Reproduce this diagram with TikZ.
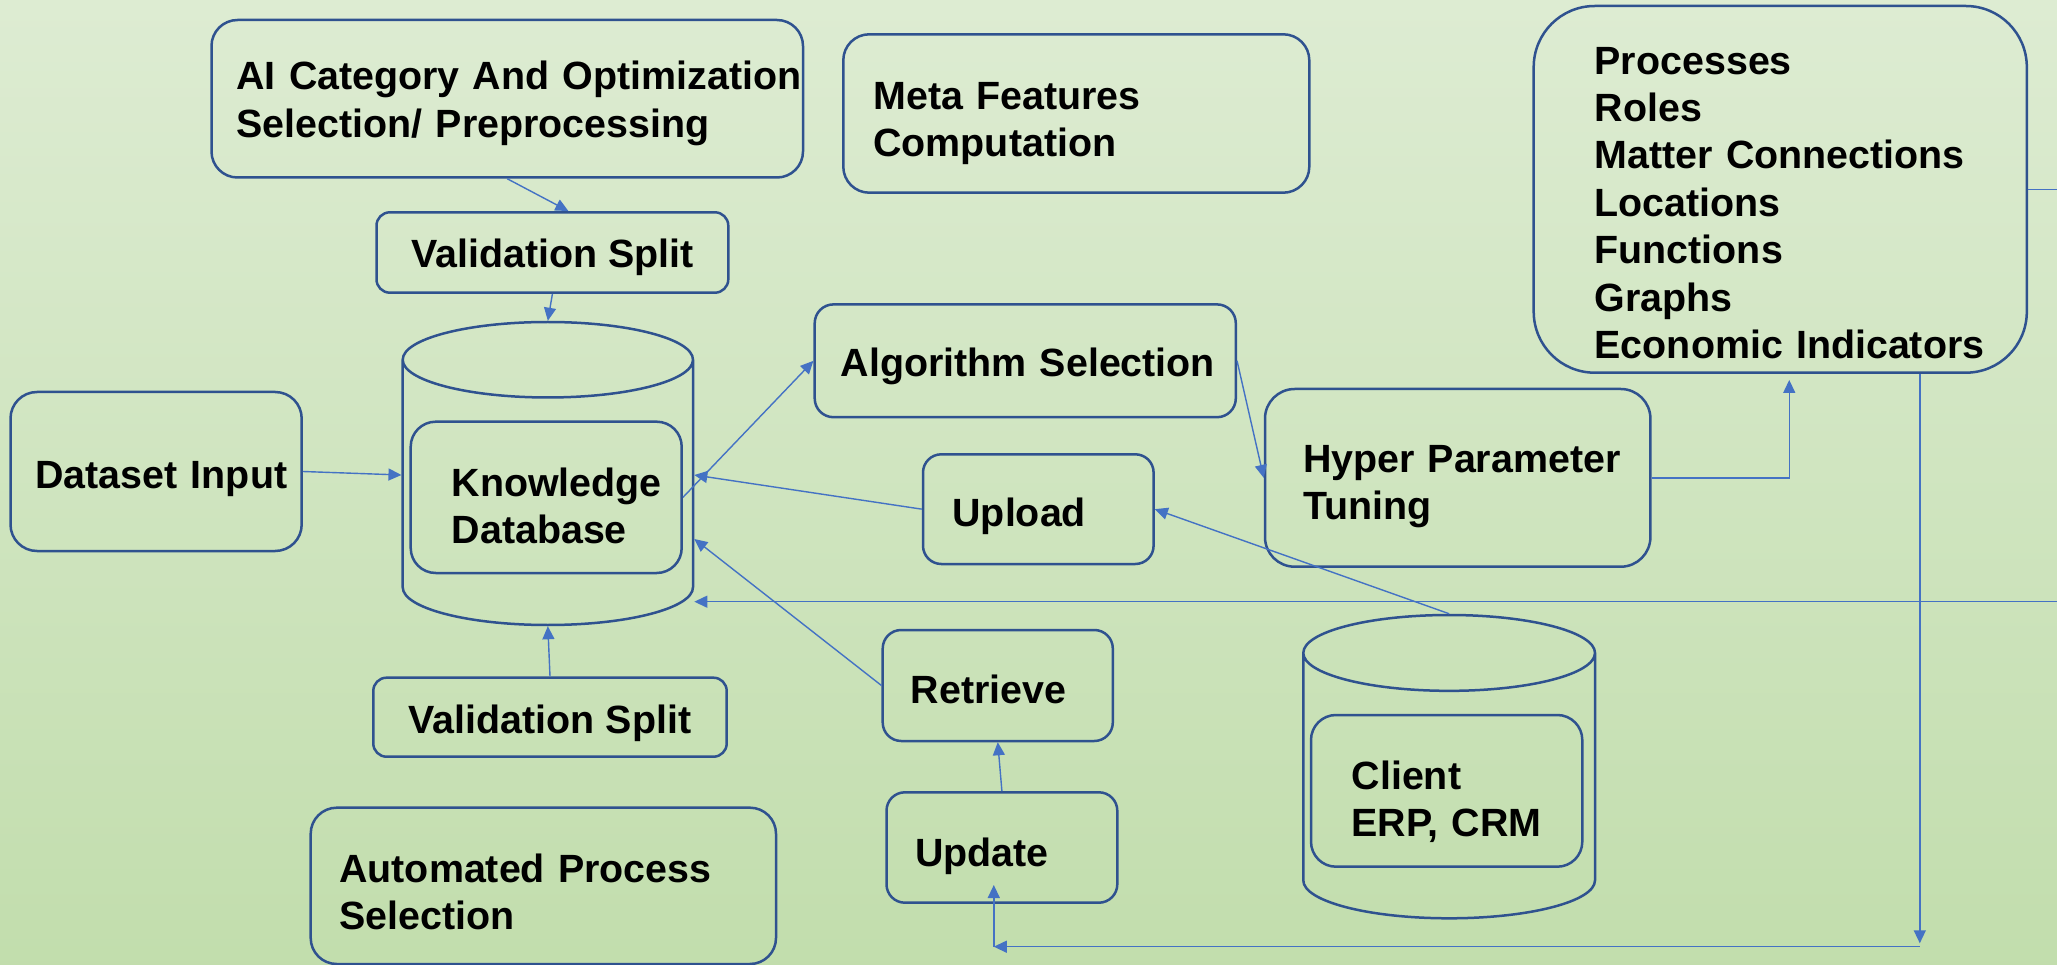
\documentclass[tikz,border=0pt]{standalone}
\usepackage{fontspec}
\setmainfont{Liberation Sans}
\usetikzlibrary{shapes.geometric,arrows.meta}

\definecolor{bordc}{HTML}{2F528F}
\definecolor{arrc}{HTML}{4472C4}
\definecolor{bgtop}{RGB}{235,243,229}
\definecolor{bgmid}{RGB}{191,220,169}
\definecolor{bgbot}{RGB}{209,229,194}
\pgfdeclareverticalshading{bgshade}{100bp}{color(0bp)=(bgbot); color(20bp)=(bgmid); color(100bp)=(bgtop)}
\newcommand{\bxfont}{\fontsize{39.4pt}{47.4pt}\selectfont\bfseries\hyphenpenalty=10000\exhyphenpenalty=10000\relax}

\begin{document}
\begin{tikzpicture}[x=1pt, y=-1pt, font=\bxfont,
	blk/.style={draw=bordc, line width=2.5pt, rounded corners=#1, inner ysep=0pt, align=left},
	txt/.style={execute at begin node=\rule{0pt}{#1}, execute at end node=\rule[-6.2pt]{0pt}{6.2pt}},
	txt/.default=45pt,
	db/.style={cylinder, shape border rotate=90, aspect=0.26, anchor=shape center, draw=bordc, line width=2.5pt, inner sep=0pt, minimum width=290pt, minimum height=303pt},
	arr/.style={->, draw=arrc, line width=1.4pt},
	>={Triangle[length=13pt,width=12pt]}]
		\path[use as bounding box] (0,0) rectangle (2057,965);
		\clip (0,0) rectangle (2057,965);
		\shade[shading=bgshade] (0,0) rectangle (2057,965);

		\node[blk=26pt, txt=38pt, text width=541.5pt, inner xsep=25pt, minimum height=157.5pt] (ai) at (507.25,98.75) {AI~Category~And~Optimization\\Selection/~Preprocessing};
		\node[blk=26pt, txt=47pt, text width=406pt, inner xsep=30pt, minimum height=158.4pt] (meta) at (1076.3,113.5) {Meta~Features\\Computation};
		\node[blk=61pt, txt=60pt, text width=371.1pt, inner xsep=61pt, minimum height=366.7pt] (proc) at (1780.25,189.35) {Processes\\Roles\\Matter~Connections\\Locations\\Functions\\Graphs\\Economic~Indicators};
		\node[blk=13.4pt, txt=38pt, align=center, minimum width=351.8pt, minimum height=80.4pt] (valtop) at (552.4,252.5) {Validation~Split};
		\node[blk=26.5pt, txt=41.2pt, text width=241.2pt, inner xsep=25pt, minimum height=159pt] (dataset) at (156.1,471.5) {Dataset~Input};
		\node[db] (kdb) at (547.85,473.5) {\rule{290.3pt}{0pt}};
		\node[blk=25pt, txt=51pt, text width=189pt, inner xsep=41pt, minimum height=151.3pt] (kdbin) at (546.2,497.35) {Knowledge\\Database};
		\node[blk=18.8pt, txt=39pt, text width=369.1pt, inner xsep=26pt, minimum height=112.8pt] (alg) at (1025.25,360.8) {Algorithm~Selection};
		\node[blk=18.3pt, txt=43pt, text width=171.6pt, inner xsep=29.5pt, minimum height=109.7pt] (upload) at (1038.3,509.15) {Upload};
		\node[blk=29.6pt, txt, text width=309.4pt, inner xsep=38pt, minimum height=177.7pt] (hyper) at (1457.7,477.85) {Hyper~Parameter\\Tuning};
		\node[blk=18.5pt, txt=41.2pt, text width=174.1pt, inner xsep=28pt, minimum height=111pt] (retrieve) at (997.75,685.5) {Retrieve};
		\node[blk=18.4pt, txt=46.5pt, text width=173.4pt, inner xsep=28.7pt, minimum height=110.4pt] (update) at (1001.9,847.5) {Update};
		\node[blk=13.2pt, txt=40pt, align=center, minimum width=353.4pt, minimum height=79pt] (valbot) at (550,717.2) {Validation~Split};
		\node[blk=26pt, txt=46.5pt, text width=408.1pt, inner xsep=28.6pt, minimum height=156.3pt] (autosel) at (543.35,885.85) {Automated~Process\\Selection};
		\node[db, minimum width=291.7pt, minimum height=303.3pt] (client) at (1449.15,766.65) {\rule{291.7pt}{0pt}};
		\node[blk=25pt, txt=50pt, text width=189.9pt, inner xsep=40.7pt, minimum height=151.7pt] (clientin) at (1446.65,790.85) {Client\\ERP,~CRM};

		\coordinate (kdbl) at (kdb.shape center -| kdb.west);
		\coordinate (kdbr) at (kdb.shape center -| kdb.east);
		\coordinate (rgt) at (2080,601.7);
		\coordinate (dn) at (1919.8,946.7);
		\coordinate (lft) at (993.8,946.7);

		\draw[arr] (ai.south) -- ([xshift=16pt]valtop.north);
		\draw[arr] (valtop.south) -- (kdb.north);
		\draw[arr] (dataset.east) -- ([yshift=-1.5pt]kdbl);
		\draw[arr] (valbot.north) -- (kdb.south);
		\draw[arr] (kdbin.east) -- (alg.west);
		\draw[arr] (upload.west) -- ([yshift=-1.5pt]kdbr);
		\draw[arr] (retrieve.west) -- ([yshift=-65.5pt]kdbr);
		\draw[arr] (client.north) -- (upload.east);
		\draw[arr] (alg.east) -- (hyper.west);
		\draw[arr] (hyper.east) -| ([xshift=9pt,yshift=-6pt]proc.south);
		\draw[arr] (update.north) -- (retrieve.south);
		\draw[arr] (proc.east) -| (rgt) -- (kdbr |- rgt);
		\draw[arr, shorten >=3.4pt] (proc.south -| dn) -- (dn);
		\draw[arr] (dn) -- (lft);
		\draw[arr, shorten >=37.5pt] (lft) -- (lft |- update.center);
	\end{tikzpicture}
\end{document}
